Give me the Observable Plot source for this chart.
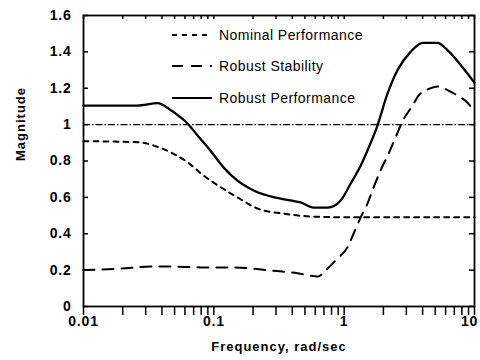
<!DOCTYPE html>
<html><head><meta charset="utf-8">
<script src="https://cdn.jsdelivr.net/npm/d3@7"></script>
<script src="https://cdn.jsdelivr.net/npm/@observablehq/plot@0.6"></script>
<style>
body{margin:0;background:#fff;}
#wrap{position:relative;width:480px;height:360px;font-family:"Liberation Sans",Arial,sans-serif;overflow:hidden;}
#legend{position:absolute;left:172px;top:19px;}
.row{display:flex;align-items:center;height:31.5px;font-size:14px;letter-spacing:0.45px;color:#000;white-space:nowrap;}
.row svg{margin-right:7px;display:block;}
</style></head><body><div id="wrap"><div id="chart"></div><div id="legend"></div></div>
<script>
const seriesNames = ["Nominal Performance", "Robust Stability", "Robust Performance"];
const seriesDash = ["5,5", "11,8", null];

const npFreq = [0.01, 0.0264, 0.0376, 0.0466, 0.0628, 0.0834, 0.1125, 0.151, 0.216, 0.34, 0.55, 1, 10];
const npMag  = [0.909, 0.903, 0.876, 0.848, 0.793, 0.72, 0.656, 0.601, 0.539, 0.511, 0.495, 0.491, 0.491];

const rsFreq = [0.01, 0.021, 0.0327, 0.0466, 0.079, 0.14, 0.27, 0.44, 0.625, 0.746, 0.89, 1.06, 1.18, 1.34, 1.51, 1.68, 1.90, 2.19, 2.48, 2.81, 3.35, 3.72, 4.6, 5.2, 6.2, 7.4, 8.85, 10];
const rsMag  = [0.2, 0.21, 0.22, 0.22, 0.215, 0.215, 0.198, 0.183, 0.165, 0.209, 0.264, 0.325, 0.40, 0.49, 0.566, 0.654, 0.748, 0.84, 0.93, 1.02, 1.105, 1.16, 1.20, 1.21, 1.19, 1.16, 1.12, 1.07];

const rpFreq = [0.01, 0.026, 0.037, 0.0466, 0.0555, 0.0628, 0.075, 0.094, 0.1187, 0.151, 0.202, 0.287, 0.388, 0.463, 0.582, 0.75, 0.94, 1.12, 1.34, 1.51, 1.80, 2.15, 2.57, 3.23, 4.0, 5.2, 6.2, 8.2, 10];
const rpMag  = [1.105, 1.105, 1.118, 1.08, 1.04, 1.006, 0.94, 0.858, 0.765, 0.693, 0.638, 0.601, 0.583, 0.573, 0.544, 0.544, 0.583, 0.675, 0.775, 0.858, 0.995, 1.17, 1.30, 1.40, 1.45, 1.45, 1.41, 1.31, 1.23];

const refLevel = [1];
const xTickLabels = [0.01, 0.1, 1, 10];
const xMinorTicks = [0.01,0.02,0.03,0.04,0.05,0.06,0.07,0.08,0.09,0.1,0.2,0.3,0.4,0.5,0.6,0.7,0.8,0.9,1,2,3,4,5,6,7,8,9,10];
const yTickValues = [0, 0.2, 0.4, 0.6, 0.8, 1, 1.2, 1.4, 1.6];

const toRows = (f, m) => f.map((x, i) => ({f: x, m: m[i]}));
const np = toRows(npFreq, npMag), rs = toRows(rsFreq, rsMag), rp = toRows(rpFreq, rpMag);

const chart = Plot.plot({
  width: 480, height: 360,
  marginLeft: 83, marginRight: 6, marginTop: 15, marginBottom: 54,
  style: {fontFamily: "Liberation Sans, Arial, sans-serif", background: "white", color: "black", overflow: "visible"},
  x: {type: "log", domain: [0.01, 10]},
  y: {domain: [0, 1.6]},
  marks: [
    Plot.ruleY(refLevel, {stroke: "black", strokeWidth: 1.2, strokeDasharray: "7,2,1.5,2"}),
    Plot.line(np, {x: "f", y: "m", stroke: "black", strokeWidth: 2, strokeDasharray: seriesDash[0], curve: "monotone-x"}),
    Plot.line(rs, {x: "f", y: "m", stroke: "black", strokeWidth: 2, strokeDasharray: seriesDash[1], curve: "monotone-x"}),
    Plot.line(rp, {x: "f", y: "m", stroke: "black", strokeWidth: 2.3, curve: "monotone-x"}),
    Plot.frame({stroke: "black", strokeWidth: 1.8}),
    Plot.tickX(xMinorTicks, {x: d => d, insetTop: 300, stroke: "black", strokeWidth: 1.5}),
    Plot.tickX(xMinorTicks, {x: d => d, insetBottom: 287, stroke: "black", strokeWidth: 1.5}),
    Plot.tickY(yTickValues, {y: d => d, insetRight: 386, stroke: "black", strokeWidth: 1.5}),
    Plot.tickY(yTickValues, {y: d => d, insetLeft: 386, stroke: "black", strokeWidth: 1.5}),
    Plot.axisX({ticks: xTickLabels, tickSize: 0, tickPadding: 10, tickFormat: d => String(d), fontSize: 14, fontWeight: "bold", label: null}),
    Plot.axisY({ticks: yTickValues, tickSize: 0, tickPadding: 12, tickFormat: d => String(d), fontSize: 14, fontWeight: "bold", label: null}),
    Plot.text(["Frequency, rad/sec"], {text: d => d, frameAnchor: "bottom", dy: 44, fontSize: 13, fontWeight: "bold"}),
    Plot.text(["Magnitude"], {text: d => d, frameAnchor: "left", dx: -63, rotate: -90, fontSize: 13, fontWeight: "bold"})
  ]
});
document.getElementById("chart").append(chart);

// typographic tweaks
const svg = d3.select(chart);
svg.selectAll("g[aria-label='text'] text").attr("letter-spacing", "1px");
svg.selectAll("g[aria-label='x-axis tick label'] text, g[aria-label='y-axis tick label'] text").attr("letter-spacing", "0.8px");
svg.selectAll("g[aria-label='x-axis tick label'] text").filter(function() { return this.textContent === "10"; }).attr("dx", "-5");

const legend = document.getElementById("legend");
seriesNames.forEach((name, i) => {
  const row = document.createElement("div");
  row.className = "row";
  const dash = seriesDash[i] ? ` stroke-dasharray="${seriesDash[i]}"` : "";
  row.innerHTML = `<svg width="40" height="6"><line x1="0" y1="3" x2="40" y2="3" stroke="black" stroke-width="2"${dash}/></svg><span>${name}</span>`;
  legend.append(row);
});
</script>
</body></html>
